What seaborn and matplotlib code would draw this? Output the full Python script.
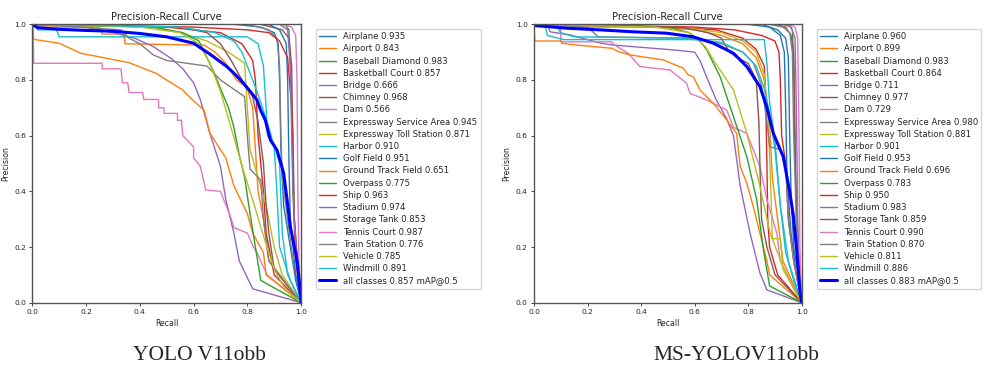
import pandas as pd
import seaborn as sns
import matplotlib.pyplot as plt

# Class names and AP@0.5 per model (from the legends)
classes = ['Airplane', 'Airport', 'Baseball Diamond', 'Basketball Court', 'Bridge',
           'Chimney', 'Dam', 'Expressway Service Area', 'Expressway Toll Station',
           'Harbor', 'Golf Field', 'Ground Track Field', 'Overpass', 'Ship',
           'Stadium', 'Storage Tank', 'Tennis Court', 'Train Station', 'Vehicle', 'Windmill']
ap_v11 = [0.935, 0.843, 0.983, 0.857, 0.666, 0.968, 0.566, 0.945, 0.871, 0.910,
          0.951, 0.651, 0.775, 0.963, 0.974, 0.853, 0.987, 0.776, 0.785, 0.891]
ap_ms = [0.960, 0.899, 0.983, 0.864, 0.711, 0.977, 0.729, 0.980, 0.881, 0.901,
         0.953, 0.696, 0.783, 0.950, 0.983, 0.859, 0.990, 0.870, 0.811, 0.886]
map_v11 = 0.857
map_ms = 0.883

# ---- YOLO V11obb curves, (recall, precision) ----
v11_airplane = [(0, 1), (0.75, 1), (0.85, 0.99), (0.9, 0.97), (0.915, 0.93), (0.92, 0.8), (0.925, 0.55),
                (0.935, 0.35), (0.96, 0.2), (0.98, 0.08), (1, 0)]
v11_airport = [(0, 1), (0.01, 0.99), (0.25, 0.99), (0.26, 0.965), (0.34, 0.965), (0.345, 0.93), (0.64, 0.925),
               (0.68, 0.9), (0.72, 0.86), (0.76, 0.8), (0.8, 0.77), (0.82, 0.7), (0.83, 0.55), (0.84, 0.4),
               (0.86, 0.3), (0.88, 0.15), (1, 0)]
v11_baseball = [(0, 1), (0.94, 1), (0.955, 0.98), (0.96, 0.85), (0.97, 0.6), (0.975, 0.3), (0.99, 0.1), (1, 0)]
v11_basketball = [(0, 1), (0.5, 0.99), (0.7, 0.97), (0.78, 0.93), (0.82, 0.87), (0.83, 0.8), (0.84, 0.6),
                  (0.86, 0.4), (0.87, 0.25), (0.9, 0.1), (1, 0)]
v11_bridge = [(0, 1), (0.2, 0.99), (0.3, 0.97), (0.38, 0.95), (0.45, 0.92), (0.52, 0.875), (0.56, 0.84),
              (0.6, 0.79), (0.625, 0.73), (0.66, 0.61), (0.7, 0.49), (0.72, 0.37), (0.75, 0.25), (0.77, 0.15),
              (0.82, 0.05), (1, 0)]
v11_chimney = [(0, 1), (0.85, 1), (0.93, 0.98), (0.955, 0.95), (0.965, 0.85), (0.97, 0.5), (0.975, 0.3),
               (0.99, 0.1), (1, 0)]
v11_dam = [(0, 1), (0.003, 1), (0.005, 0.86), (0.26, 0.86), (0.26, 0.84), (0.33, 0.84), (0.335, 0.79),
           (0.355, 0.79), (0.36, 0.755), (0.41, 0.755), (0.415, 0.73), (0.47, 0.73), (0.47, 0.7), (0.49, 0.7),
           (0.49, 0.68), (0.54, 0.68), (0.54, 0.655), (0.555, 0.655), (0.56, 0.6), (0.6, 0.56), (0.6, 0.52),
           (0.625, 0.49), (0.637, 0.44), (0.645, 0.405), (0.7, 0.4), (0.737, 0.31), (0.75, 0.27), (0.8, 0.25),
           (0.823, 0.2), (0.836, 0.18), (0.873, 0.1), (1, 0)]
v11_service = [(0, 1), (0.8, 1), (0.88, 0.98), (0.91, 0.95), (0.92, 0.85), (0.925, 0.6), (0.93, 0.45),
               (0.95, 0.3), (0.97, 0.15), (1, 0)]
v11_toll = [(0, 1), (0.45, 0.99), (0.55, 0.97), (0.65, 0.94), (0.73, 0.9), (0.79, 0.86), (0.8, 0.7),
            (0.81, 0.55), (0.84, 0.45), (0.87, 0.35), (0.9, 0.2), (0.93, 0.1), (1, 0)]
v11_harbor = [(0, 1), (0.02, 0.98), (0.09, 0.98), (0.1, 0.955), (0.8, 0.955), (0.84, 0.93), (0.86, 0.85),
              (0.87, 0.7), (0.875, 0.6), (0.9, 0.57), (0.92, 0.5), (0.93, 0.25), (0.95, 0.1), (1, 0)]
v11_golf = [(0, 1), (0.88, 1), (0.92, 0.98), (0.945, 0.93), (0.95, 0.8), (0.955, 0.5), (0.96, 0.3),
            (0.98, 0.1), (1, 0)]
v11_track = [(0, 1), (0.005, 0.946), (0.1, 0.932), (0.18, 0.896), (0.26, 0.881), (0.36, 0.862), (0.46, 0.824),
             (0.51, 0.794), (0.56, 0.764), (0.59, 0.734), (0.64, 0.69), (0.66, 0.61), (0.72, 0.52), (0.75, 0.42),
             (0.8, 0.32), (0.82, 0.25), (0.86, 0.18), (0.87, 0.1), (1, 0)]
v11_overpass = [(0, 1), (0.45, 0.99), (0.56, 0.97), (0.62, 0.94), (0.64, 0.9), (0.67, 0.84), (0.7, 0.77),
                (0.73, 0.7), (0.75, 0.63), (0.77, 0.53), (0.79, 0.45), (0.81, 0.32), (0.83, 0.2), (0.85, 0.08),
                (1, 0)]
v11_ship = [(0, 1), (0.6, 0.99), (0.8, 0.98), (0.88, 0.97), (0.92, 0.94), (0.95, 0.88), (0.965, 0.7),
            (0.97, 0.4), (0.98, 0.15), (1, 0)]
v11_stadium = [(0, 1), (0.92, 1), (0.95, 0.98), (0.96, 0.85), (0.965, 0.6), (0.97, 0.4), (0.98, 0.2), (1, 0)]
v11_storage = [(0, 1), (0.55, 0.99), (0.65, 0.97), (0.7, 0.93), (0.74, 0.87), (0.78, 0.8), (0.82, 0.74),
               (0.84, 0.65), (0.86, 0.5), (0.87, 0.35), (0.88, 0.25), (0.9, 0.12), (1, 0)]
v11_tennis = [(0, 1), (0.93, 1), (0.965, 0.99), (0.98, 0.96), (0.985, 0.8), (0.988, 0.4), (0.992, 0.15), (1, 0)]
v11_train = [(0, 1), (0.33, 0.98), (0.36, 0.95), (0.4, 0.93), (0.45, 0.89), (0.5, 0.87), (0.65, 0.85),
             (0.7, 0.8), (0.76, 0.76), (0.79, 0.74), (0.8, 0.6), (0.81, 0.48), (0.85, 0.44), (0.86, 0.3),
             (0.88, 0.15), (1, 0)]
v11_vehicle = [(0, 1), (0.4, 0.99), (0.55, 0.97), (0.62, 0.93), (0.66, 0.86), (0.7, 0.76), (0.73, 0.66),
               (0.76, 0.56), (0.79, 0.46), (0.82, 0.37), (0.86, 0.24), (0.9, 0.12), (0.94, 0.05), (1, 0)]
v11_windmill = [(0, 1), (0.55, 0.99), (0.68, 0.97), (0.75, 0.94), (0.78, 0.9), (0.8, 0.85), (0.82, 0.8),
                (0.85, 0.72), (0.88, 0.63), (0.9, 0.56), (0.91, 0.4), (0.92, 0.2), (0.96, 0.08), (1, 0)]
v11_mean = [(0, 1), (0.02, 0.988), (0.1, 0.982), (0.2, 0.978), (0.3, 0.975), (0.4, 0.967), (0.5, 0.955),
            (0.6, 0.932), (0.656, 0.896), (0.7, 0.865), (0.724, 0.848), (0.76, 0.815), (0.786, 0.788),
            (0.81, 0.76), (0.836, 0.728), (0.85, 0.69), (0.867, 0.656), (0.876, 0.62), (0.886, 0.584),
            (0.91, 0.549), (0.925, 0.5), (0.935, 0.465), (0.948, 0.369), (0.96, 0.273), (0.975, 0.2),
            (0.985, 0.153), (0.993, 0.08), (1, 0)]

# ---- MS-YOLOV11obb curves ----
ms_airplane = [(0, 1), (0.85, 1), (0.91, 0.98), (0.94, 0.95), (0.95, 0.88), (0.955, 0.6), (0.96, 0.4),
               (0.97, 0.2), (0.99, 0.08), (1, 0)]
ms_airport = [(0, 1), (0.005, 0.99), (0.45, 0.99), (0.6, 0.98), (0.7, 0.96), (0.78, 0.93), (0.83, 0.88),
              (0.86, 0.8), (0.88, 0.65), (0.89, 0.45), (0.91, 0.3), (0.93, 0.15), (1, 0)]
ms_baseball = [(0, 1), (0.95, 1), (0.965, 0.98), (0.97, 0.85), (0.975, 0.5), (0.985, 0.25), (1, 0)]
ms_basketball = [(0, 1), (0.5, 0.99), (0.68, 0.98), (0.78, 0.95), (0.83, 0.91), (0.86, 0.85), (0.865, 0.75),
                 (0.87, 0.5), (0.873, 0.3), (0.88, 0.2), (0.91, 0.1), (1, 0)]
ms_bridge = [(0, 1), (0.05, 1), (0.06, 0.973), (0.134, 0.962), (0.25, 0.932), (0.29, 0.926), (0.52, 0.908),
             (0.6, 0.9), (0.62, 0.87), (0.645, 0.81), (0.68, 0.73), (0.72, 0.66), (0.745, 0.6), (0.77, 0.42),
             (0.807, 0.25), (0.844, 0.106), (0.87, 0.046), (1, 0)]
ms_chimney = [(0, 1), (0.9, 1), (0.94, 0.99), (0.96, 0.96), (0.97, 0.9), (0.975, 0.6), (0.98, 0.3),
              (0.99, 0.1), (1, 0)]
ms_dam = [(0, 1), (0.1, 1), (0.1, 0.937), (0.29, 0.937), (0.3, 0.926), (0.352, 0.896), (0.396, 0.848),
          (0.508, 0.836), (0.57, 0.788), (0.583, 0.752), (0.645, 0.728), (0.72, 0.692), (0.745, 0.63),
          (0.795, 0.608), (0.844, 0.489), (0.87, 0.37), (0.907, 0.249), (0.92, 0.15), (1, 0)]
ms_service = [(0, 1), (0.88, 1), (0.93, 0.99), (0.955, 0.97), (0.965, 0.9), (0.97, 0.6), (0.98, 0.3),
              (0.99, 0.1), (1, 0)]
ms_toll = [(0, 1), (0.55, 0.99), (0.7, 0.97), (0.78, 0.94), (0.83, 0.9), (0.86, 0.82), (0.875, 0.65),
           (0.885, 0.4), (0.89, 0.23), (0.92, 0.23), (0.93, 0.12), (1, 0)]
ms_harbor = [(0, 1), (0.04, 1), (0.05, 0.96), (0.11, 0.945), (0.86, 0.945), (0.87, 0.86), (0.88, 0.72),
             (0.9, 0.58), (0.92, 0.35), (0.94, 0.18), (0.97, 0.08), (1, 0)]
ms_golf = [(0, 1), (0.8, 1), (0.88, 0.99), (0.92, 0.96), (0.935, 0.9), (0.94, 0.7), (0.945, 0.45),
           (0.96, 0.25), (0.98, 0.1), (1, 0)]
ms_track = [(0, 1), (0.003, 0.94), (0.103, 0.94), (0.103, 0.932), (0.153, 0.926), (0.29, 0.914),
            (0.315, 0.902), (0.359, 0.89), (0.483, 0.872), (0.558, 0.842), (0.576, 0.818), (0.595, 0.812),
            (0.62, 0.764), (0.67, 0.716), (0.72, 0.656), (0.757, 0.608), (0.77, 0.489), (0.795, 0.429),
            (0.819, 0.345), (0.844, 0.249), (0.869, 0.153), (0.88, 0.1), (1, 0)]
ms_overpass = [(0, 1), (0.5, 0.99), (0.58, 0.97), (0.62, 0.94), (0.645, 0.908), (0.695, 0.812), (0.745, 0.668),
               (0.795, 0.524), (0.832, 0.369), (0.857, 0.19), (0.88, 0.06), (1, 0)]
ms_ship = [(0, 1), (0.6, 0.99), (0.75, 0.98), (0.85, 0.96), (0.9, 0.94), (0.915, 0.9), (0.92, 0.8),
           (0.925, 0.6), (0.94, 0.5), (0.95, 0.3), (0.97, 0.15), (1, 0)]
ms_stadium = [(0, 1), (0.93, 1), (0.96, 0.99), (0.975, 0.95), (0.98, 0.7), (0.985, 0.3), (0.99, 0.1), (1, 0)]
ms_storage = [(0, 1), (0.55, 0.99), (0.65, 0.97), (0.7, 0.95), (0.73, 0.9), (0.76, 0.88), (0.8, 0.86),
              (0.83, 0.8), (0.84, 0.65), (0.845, 0.45), (0.85, 0.3), (0.87, 0.2), (0.9, 0.1), (1, 0)]
ms_tennis = [(0, 1), (0.95, 1), (0.975, 0.99), (0.985, 0.95), (0.99, 0.6), (0.993, 0.2), (1, 0)]
ms_train = [(0, 1), (0.2, 0.99), (0.24, 0.955), (0.6, 0.95), (0.7, 0.93), (0.78, 0.9), (0.82, 0.86),
            (0.85, 0.78), (0.87, 0.65), (0.88, 0.56), (0.92, 0.55), (0.94, 0.5), (0.95, 0.3), (0.97, 0.15),
            (1, 0)]
ms_vehicle = [(0, 1), (0.45, 0.99), (0.58, 0.97), (0.64, 0.92), (0.67, 0.872), (0.745, 0.764), (0.795, 0.608),
              (0.844, 0.417), (0.882, 0.249), (0.93, 0.13), (0.97, 0.05), (1, 0)]
ms_windmill = [(0, 1), (0.08, 1), (0.1, 0.97), (0.15, 0.955), (0.55, 0.95), (0.7, 0.935), (0.78, 0.9),
               (0.83, 0.85), (0.86, 0.77), (0.88, 0.68), (0.9, 0.55), (0.92, 0.35), (0.95, 0.15), (1, 0)]
ms_mean = [(0, 0.997), (0.06, 0.991), (0.122, 0.986), (0.247, 0.98), (0.371, 0.973), (0.496, 0.968),
           (0.595, 0.955), (0.67, 0.932), (0.745, 0.896), (0.795, 0.848), (0.844, 0.776), (0.869, 0.704),
           (0.894, 0.608), (0.931, 0.524), (0.956, 0.393), (0.969, 0.309), (0.981, 0.19), (0.994, 0.034),
           (1, 0)]

v11_curves = [v11_airplane, v11_airport, v11_baseball, v11_basketball, v11_bridge, v11_chimney, v11_dam,
              v11_service, v11_toll, v11_harbor, v11_golf, v11_track, v11_overpass, v11_ship, v11_stadium,
              v11_storage, v11_tennis, v11_train, v11_vehicle, v11_windmill]
ms_curves = [ms_airplane, ms_airport, ms_baseball, ms_basketball, ms_bridge, ms_chimney, ms_dam,
             ms_service, ms_toll, ms_harbor, ms_golf, ms_track, ms_overpass, ms_ship, ms_stadium,
             ms_storage, ms_tennis, ms_train, ms_vehicle, ms_windmill]

sns.set_style('ticks')
plt.rcParams['font.family'] = ['DejaVu Sans']
palette = sns.color_palette('tab10', 10)

fig = plt.figure(figsize=(9.92, 3.75), dpi=100)
ax_left = fig.add_axes([0.0326, 0.1928, 0.2709, 0.7424])
ax_right = fig.add_axes([0.5383, 0.1928, 0.2699, 0.7424])


def draw_panel(ax, curves, aps, mean_curve, mean_ap, legend_x):
    # one thin line per class, default colour cycle order
    for i, pts in enumerate(curves):
        df = pd.DataFrame(pts, columns=['recall', 'precision'])
        sns.lineplot(data=df, x='recall', y='precision', sort=False, estimator=None,
                     color=palette[i % 10], linewidth=1.0, label=f'{classes[i]} {aps[i]:.3f}', ax=ax)
    # thick blue mean curve on top
    df = pd.DataFrame(mean_curve, columns=['recall', 'precision'])
    sns.lineplot(data=df, x='recall', y='precision', sort=False, estimator=None,
                 color='blue', linewidth=2.2, label=f'all classes {mean_ap:.3f} mAP@0.5', ax=ax)

    ax.set_xlim(0, 1)
    ax.set_ylim(0, 1)
    ax.set_title('Precision-Recall Curve', fontsize=7.2, pad=3)
    ax.set_xlabel('Recall', fontsize=5.6, labelpad=3)
    ax.set_ylabel('Precision', fontsize=5.6, labelpad=3)
    ax.tick_params(labelsize=5.4, length=2.5, width=0.6, pad=2)
    for s in ax.spines.values():
        s.set_color('#555555')
        s.set_linewidth(1.0)
    ax.legend(loc='upper left', bbox_to_anchor=(legend_x, 0.9235), bbox_transform=fig.transFigure,
              fontsize=6.1, labelspacing=0.38, frameon=True, borderaxespad=0)


draw_panel(ax_left, v11_curves, ap_v11, v11_mean, map_v11, 0.3185)
draw_panel(ax_right, ms_curves, ap_ms, ms_mean, map_ms, 0.8233)

fig.text(0.2016, 0.053, 'YOLO V11obb', family='Liberation Serif', fontsize=15.5, ha='center', va='center')
fig.text(0.742, 0.053, 'MS-YOLOV11obb', family='Liberation Serif', fontsize=15.5, ha='center', va='center')

plt.savefig('out.png', dpi=100)
plt.close()
